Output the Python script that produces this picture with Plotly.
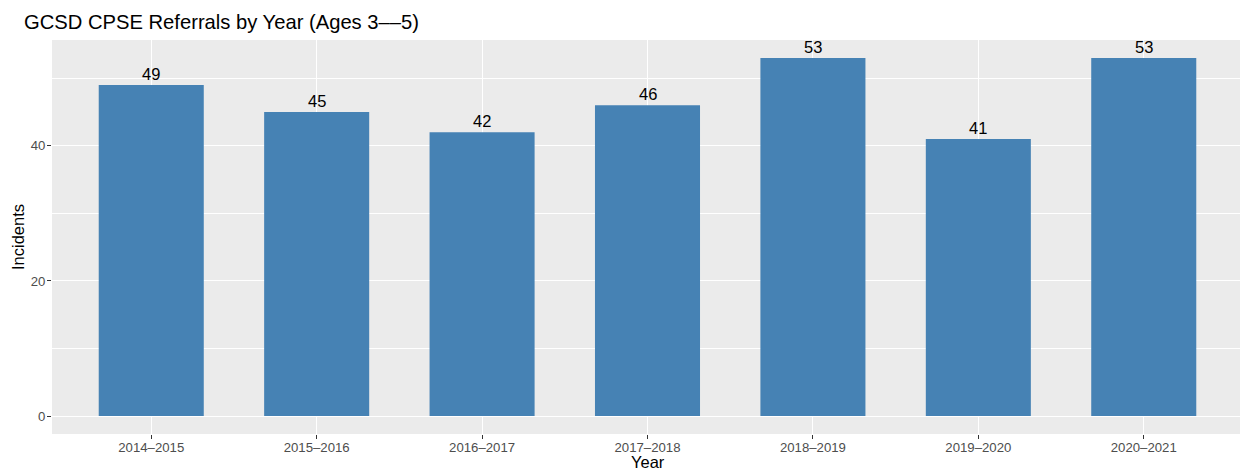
import plotly.graph_objects as go

years = ["2014–2015", "2015–2016", "2016–2017", "2017–2018", "2018–2019", "2019–2020", "2020–2021"]
incidents = [49, 45, 42, 46, 53, 41, 53]

font_family = "Liberation Sans, Arial, sans-serif"

# page body has an 8px default margin, so figure is 1240x462 placed at (8, 8)
W, H = 1240, 462
L, R, T, B = 44, 5, 32, 36

fig = go.Figure()
fig.add_trace(go.Bar(
    x=years, y=incidents,
    marker=dict(color="#4682B4", line=dict(width=0)),
    width=0.635,
    hoverinfo="x+y",
))

annotations = [
    dict(x=x, y=y, text=str(y), showarrow=False, xref="x", yref="y",
         yanchor="bottom", yshift=0,
         font=dict(family=font_family, size=16.5, color="black"))
    for x, y in zip(years, incidents)
]
annotations.append(dict(
    text="Year", x=0.5, y=0, xref="paper", yref="paper", showarrow=False,
    xanchor="center", yanchor="middle", yshift=-28,
    font=dict(family=font_family, size=16.5, color="black")))
annotations.append(dict(
    text="Incidents", x=0, y=0.5, xref="paper", yref="paper", showarrow=False,
    xanchor="center", yanchor="middle", xshift=-34, textangle=-90,
    font=dict(family=font_family, size=16.5, color="black")))

ymax = max(incidents)
fig.update_layout(
    width=W, height=H,
    margin=dict(l=L, r=R, t=T, b=B, autoexpand=False),
    paper_bgcolor="white",
    plot_bgcolor="#EBEBEB",
    showlegend=False,
    title=dict(text="GCSD CPSE Referrals by Year (Ages 3––5)",
               x=16/W, xanchor="left", y=1-14/H, yanchor="middle",
               font=dict(family=font_family, size=20.2, color="black")),
    font=dict(family=font_family),
    annotations=annotations,
    xaxis=dict(
        automargin=False,
        range=[-0.6, 6.6],
        showgrid=True, gridcolor="white", gridwidth=1.1,
        ticks="outside", ticklen=4, tickcolor="#333333", tickwidth=1,
        ticklabelstandoff=-3,
        tickfont=dict(family=font_family, size=13.2, color="#4D4D4D"),
        zeroline=False, showline=False,
    ),
    yaxis=dict(
        automargin=False,
        range=[-0.05 * ymax, 1.05 * ymax],
        tickvals=[0, 20, 40],
        showgrid=True, gridcolor="white", gridwidth=1.1,
        minor=dict(tickvals=[10, 30, 50], showgrid=True, gridcolor="white", gridwidth=0.5, ticks=""),
        ticks="outside", ticklen=4, tickcolor="#333333", tickwidth=1,
        ticklabelstandoff=-1,
        tickfont=dict(family=font_family, size=13.2, color="#4D4D4D"),
        zeroline=False, showline=False,
    ),
)

fig.write_html("out.html")
